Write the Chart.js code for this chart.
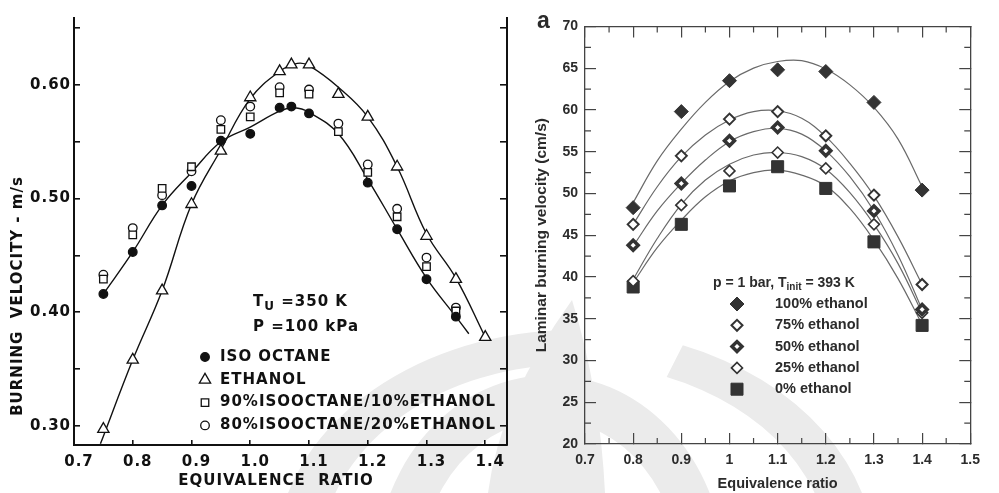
<!DOCTYPE html>
<html>
<head>
<meta charset="utf-8">
<title>Burning velocity vs equivalence ratio</title>
<script src="https://cdn.jsdelivr.net/npm/chart.js@4.4.1/dist/chart.umd.min.js"></script>
<style>
  html, body { margin: 0; padding: 0; background: #fff; }
  #panels { position: relative; width: 999px; height: 493px; overflow: hidden; }
  #panels canvas { position: absolute; top: 0; }
  #emblem { left: 0; width: 999px; height: 493px; }
  #leftChart { left: 0; width: 530px; height: 493px; }
  #rightChart { left: 530px; width: 469px; height: 493px; }
</style>
</head>
<body>
<div id="panels">
  <canvas id="emblem" width="999" height="493"></canvas>
  <canvas id="leftChart" width="530" height="493"></canvas>
  <canvas id="rightChart" width="469" height="493"></canvas>
</div>
<script>
// ---- left panel: iso-octane / ethanol, Tu = 350 K, P = 100 kPa (m/s) ----
const leftPhiIso = [0.75, 0.80, 0.85, 0.90, 0.95, 1.00, 1.05, 1.07, 1.10, 1.20, 1.25, 1.30, 1.35];
const leftSuIso  = [0.416, 0.453, 0.494, 0.511, 0.551, 0.557, 0.580, 0.581, 0.575, 0.514, 0.473, 0.429, 0.396];
const leftPhiEth = [0.75, 0.80, 0.85, 0.90, 0.95, 1.00, 1.05, 1.07, 1.10, 1.15, 1.20, 1.25, 1.30, 1.35, 1.40];
const leftSuEth  = [0.297, 0.358, 0.419, 0.495, 0.542, 0.589, 0.612, 0.618, 0.618, 0.592, 0.572, 0.528, 0.467, 0.429, 0.378];
const leftPhiBlend = [0.75, 0.80, 0.85, 0.90, 0.95, 1.00, 1.05, 1.10, 1.15, 1.20, 1.25, 1.30, 1.35];
const leftSu90 = [0.429, 0.468, 0.509, 0.528, 0.561, 0.572, 0.593, 0.592, 0.559, 0.523, 0.484, 0.440, 0.401];
const leftSu80 = [0.433, 0.474, 0.503, 0.524, 0.569, 0.581, 0.598, 0.596, 0.566, 0.530, 0.491, 0.448, 0.404];
// trend curves drawn through the iso-octane and ethanol points
const isoCurvePhi = [0.75, 0.80, 0.85, 0.90, 0.95, 1.00, 1.05, 1.075, 1.10, 1.15, 1.20, 1.25, 1.30, 1.35, 1.372];
const isoCurveSu  = [0.416, 0.453, 0.494, 0.523, 0.550, 0.563, 0.577, 0.580, 0.576, 0.557, 0.517, 0.473, 0.430, 0.396, 0.381];
const ethCurvePhi = [0.745, 0.80, 0.85, 0.90, 0.95, 1.00, 1.05, 1.08, 1.10, 1.15, 1.20, 1.25, 1.30, 1.35, 1.40];
const ethCurveSu  = [0.284, 0.358, 0.419, 0.495, 0.543, 0.588, 0.612, 0.619, 0.617, 0.598, 0.572, 0.528, 0.469, 0.430, 0.378];
const leftXTicks  = [0.7, 0.8, 0.9, 1.0, 1.1, 1.2, 1.3, 1.4];
const leftYTicks  = [0.30, 0.35, 0.40, 0.45, 0.50, 0.55, 0.60, 0.65];
const leftYLabels = [0.30, 0.40, 0.50, 0.60];

// ---- right panel: ethanol share, p = 1 bar, Tinit = 393 K (cm/s) ----
const rightPhi = [0.8, 0.9, 1.0, 1.1, 1.2, 1.3, 1.4];
const su100 = [48.3, 59.8, 63.5, 64.8, 64.6, 60.9, 50.4];
const su75  = [46.3, 54.5, 58.9, 59.8, 56.9, 49.8, 39.1];
const su50  = [43.8, 51.2, 56.3, 57.9, 55.1, 47.9, 36.1];
const su25  = [39.5, 48.6, 52.7, 54.9, 53.0, 46.3, 35.7];
const su0   = [38.8, 46.3, 50.9, 53.2, 50.6, 44.2, 34.2];
const fitPhi = [0.8, 0.85, 0.9, 0.95, 1.0, 1.05, 1.1, 1.15, 1.2, 1.25, 1.3, 1.35, 1.4];
const fit100 = [48.9, 53.9, 57.7, 60.9, 63.4, 65.0, 65.8, 65.9, 64.9, 63.0, 60.3, 56.5, 50.8];
const fit75  = [46.3, 50.8, 54.4, 57.0, 58.8, 59.8, 59.9, 59.0, 56.8, 53.6, 49.7, 44.8, 39.1];
const fit50  = [43.7, 47.9, 51.2, 54.0, 56.2, 57.4, 57.8, 57.1, 55.1, 52.0, 47.9, 42.6, 36.1];
const fit25  = [39.7, 44.6, 48.7, 51.6, 53.5, 54.6, 54.9, 54.4, 52.9, 50.1, 46.3, 41.6, 35.7];
const fit0   = [39.3, 43.5, 46.8, 49.6, 51.5, 52.5, 52.8, 52.2, 50.9, 48.2, 44.4, 39.8, 34.3];
const rightXTicks = [0.7, 0.8, 0.9, 1.0, 1.1, 1.2, 1.3, 1.4, 1.5];
const rightYTicks = [20, 25, 30, 35, 40, 45, 50, 55, 60, 65, 70];

const pts = (xs, ys) => xs.map((x, i) => ({ x, y: ys[i] }));
const fixTicks = list => scale => { scale.ticks = list.map(value => ({ value })); };

// faint emblem printed behind both panels
(function drawEmblem() {
  const c = document.getElementById('emblem').getContext('2d');
  c.fillStyle = '#ebebeb';
  const band = (cx, cy, rxo, ryo, rxi, ryi, a0, a1) => {
    c.beginPath();
    c.ellipse(cx, cy, rxo, ryo, 0, a0, a1);
    c.ellipse(cx, cy, rxi, ryi, 0, a1, a0, true);
    c.closePath();
    c.fill();
  };
  band(575, 560, 300, 230, 255, 196, 3.2, 4.66);
  band(575, 560, 300, 230, 255, 196, 5.08, 6.3);
  band(550, 575, 175, 200, 130, 155, 3.1, 6.3);
  c.beginPath();
  c.moveTo(572, 300);
  c.quadraticCurveTo(500, 400, 488, 493);
  c.lineTo(605, 493);
  c.quadraticCurveTo(600, 390, 572, 300);
  c.fill();
})();

// short extra ticks halfway between the major ones, pointing into the plot
const minorTicks = {
  id: 'minorTicks',
  afterDraw(chart, args, opts) {
    if (!opts.length) return;
    const { ctx, chartArea: a } = chart;
    ctx.save();
    ctx.strokeStyle = opts.color;
    ctx.lineWidth = opts.width;
    ctx.beginPath();
    for (const scale of Object.values(chart.scales)) {
      const t = scale.ticks;
      for (let i = 0; i + 1 < t.length; i++) {
        const p = scale.getPixelForValue((t[i].value + t[i + 1].value) / 2);
        if (scale.position === 'bottom') { ctx.moveTo(p, a.bottom); ctx.lineTo(p, a.bottom - opts.length); }
        if (scale.position === 'top') { ctx.moveTo(p, a.top); ctx.lineTo(p, a.top + opts.length); }
        if (scale.position === 'left') { ctx.moveTo(a.left, p); ctx.lineTo(a.left + opts.length, p); }
        if (scale.position === 'right') { ctx.moveTo(a.right, p); ctx.lineTo(a.right - opts.length, p); }
      }
    }
    ctx.stroke();
    ctx.restore();
  }
};

// legend drawn inside the plot: one row per labelled dataset
const keyBox = {
  id: 'keyBox',
  afterDraw(chart, args, o) {
    if (!o.rowGap) return;
    const ctx = chart.ctx;
    ctx.save();
    ctx.letterSpacing = o.spacing || '0px';
    ctx.font = o.font;
    ctx.textBaseline = 'middle';
    chart.data.datasets.filter(d => d.label).forEach((d, i) => {
      const y = o.top + i * o.rowGap;
      ctx.fillStyle = d.backgroundColor;
      ctx.strokeStyle = d.borderColor;
      ctx.lineWidth = d.borderWidth;
      Chart.helpers.drawPoint(ctx, {
        pointStyle: d.pointStyle, radius: d.keyRadius || d.pointRadius, rotation: 0, borderWidth: d.borderWidth
      }, o.markX, y);
      ctx.fillStyle = o.color;
      ctx.fillText(d.label, o.textX, y);
    });
    ctx.restore();
  }
};

// free text with optional subscripts and rotation
const notes = {
  id: 'notes',
  afterDraw(chart, args, o) {
    if (!o.items) return;
    const ctx = chart.ctx;
    for (const n of o.items) {
      ctx.save();
      ctx.translate(n.x, n.y);
      if (n.rotate) ctx.rotate(n.rotate * Math.PI / 180);
      ctx.letterSpacing = o.spacing || '0px';
      ctx.fillStyle = o.color;
      ctx.textBaseline = 'middle';
      const runs = n.runs || [{ text: n.text }];
      let w = 0;
      runs.forEach(r => { ctx.font = r.sub ? o.subFont : (n.font || o.font); r.w = ctx.measureText(r.text).width; w += r.w; });
      let x = n.align === 'center' ? -w / 2 : 0;
      runs.forEach(r => {
        ctx.font = r.sub ? o.subFont : (n.font || o.font);
        ctx.fillText(r.text, x, r.sub ? o.subShift : 0);
        x += r.w;
      });
      ctx.restore();
    }
  }
};

// wider letter spacing for the typewriter-style lettering of the left panel
const spaced = {
  id: 'spaced',
  beforeDraw(chart, args, o) { if (o.value) chart.ctx.letterSpacing = o.value; }
};

const ink = '#111';
const leftFont = { family: 'DejaVu Sans', size: 15, weight: 'bold' };
const leftFontStr = 'bold 15px "DejaVu Sans"';

function leftCurve(xs, ys) {
  return { data: pts(xs, ys), showLine: true, pointRadius: 0, borderColor: ink, borderWidth: 1.4,
           tension: 0.4, order: 5 };
}
function leftMarks(label, xs, ys, style, radius, fill) {
  return { label, data: pts(xs, ys), pointStyle: style, pointRadius: radius, keyRadius: radius,
           backgroundColor: fill, borderColor: ink, borderWidth: 1.3, order: 1 };
}

new Chart(document.getElementById('leftChart'), {
  type: 'scatter',
  data: {
    datasets: [
      leftMarks('ISO OCTANE', leftPhiIso, leftSuIso, 'circle', 4.3, ink),
      leftMarks('ETHANOL', leftPhiEth, leftSuEth, 'triangle', 6.5, '#fff'),
      leftMarks('90%ISOOCTANE/10%ETHANOL', leftPhiBlend, leftSu90, 'rect', 5.3, '#fff'),
      leftMarks('80%ISOOCTANE/20%ETHANOL', leftPhiBlend, leftSu80, 'circle', 4.3, '#fff'),
      leftCurve(isoCurvePhi, isoCurveSu),
      leftCurve(ethCurvePhi, ethCurveSu)
    ]
  },
  options: {
    responsive: false,
    animation: false,
    events: [],
    layout: { padding: { top: 13, left: 0, right: 0, bottom: 0 } },
    scales: {
      x: {
        type: 'linear', position: 'bottom', min: 0.7, max: 1.437,
        afterBuildTicks: fixTicks(leftXTicks),
        afterFit: s => { s.height = 48; },
        ticks: { callback: v => v.toFixed(1), font: leftFont, color: ink, padding: 13, labelOffset: 5, maxRotation: 0 },
        grid: { drawOnChartArea: false, tickLength: -5, color: ink, lineWidth: 1.6 },
        border: { color: ink, width: 2 }
      },
      y: {
        type: 'linear', position: 'left', min: 0.283, max: 0.659,
        afterBuildTicks: fixTicks(leftYTicks),
        afterFit: s => { s.width = 74; },
        ticks: {
          callback: v => leftYLabels.some(l => Math.abs(l - v) < 1e-6) ? v.toFixed(2) : '',
          font: leftFont, color: ink, padding: 9
        },
        grid: { drawOnChartArea: false, tickLength: -6, color: ink, lineWidth: 1.6 },
        border: { color: ink, width: 2 }
      },
      yRight: {
        type: 'linear', position: 'right', min: 0.283, max: 0.659,
        afterBuildTicks: fixTicks(leftYTicks),
        afterFit: s => { s.width = 23; },
        ticks: { display: false },
        grid: { drawOnChartArea: false, tickLength: -7, color: ink, lineWidth: 1.6 },
        border: { color: ink, width: 2 }
      }
    },
    plugins: {
      legend: { display: false },
      tooltip: { enabled: false },
      spaced: { value: '1px' },
      keyBox: { markX: 205, textX: 220, top: 357, rowGap: 22.8, font: leftFontStr, color: ink, spacing: '1px' },
      notes: {
        font: leftFontStr, subFont: 'bold 12px "DejaVu Sans"', subShift: 5, color: ink, spacing: '1px',
        items: [
          { x: 253, y: 302, runs: [{ text: 'T' }, { text: 'U', sub: true }, { text: ' =350 K' }] },
          { x: 253, y: 327, text: 'P =100 kPa' },
          { x: 18, y: 296, rotate: -90, align: 'center', text: 'BURNING  VELOCITY - m/s' },
          { x: 276, y: 481, align: 'center', text: 'EQUIVALENCE  RATIO' }
        ]
      }
    }
  },
  plugins: [spaced, keyBox, notes]
});

// ---- right panel ----
const grey = '#2b2b2b';
const rightFont = { family: 'Liberation Sans', size: 14, weight: 'bold' };
const rightFontStr = 'bold 14.5px "Liberation Sans"';

function rightCurve(ys) {
  return { data: pts(fitPhi, ys), showLine: true, pointRadius: 0, borderColor: '#6a6a6a', borderWidth: 1.2,
           tension: 0.4, order: 5 };
}
function rightMarks(label, ys, style, radius, fill, bw) {
  return { label, data: pts(rightPhi, ys), pointStyle: style, pointRadius: radius,
           backgroundColor: fill, borderColor: '#333', borderWidth: bw, order: 1 };
}
const boxAxis = tl => ({ drawOnChartArea: false, tickLength: tl, color: '#444', lineWidth: 1.2 });

new Chart(document.getElementById('rightChart'), {
  type: 'scatter',
  data: {
    datasets: [
      rightMarks('100% ethanol', su100, 'rectRot', 7, '#333', 1),
      rightMarks('75% ethanol', su75, 'rectRot', 5.5, '#fff', 2),
      rightMarks('50% ethanol', su50, 'rectRot', 5, '#fff', 3.5),
      rightMarks('25% ethanol', su25, 'rectRot', 5.5, '#fff', 1.6),
      rightMarks('0% ethanol', su0, 'rect', 8.5, '#333', 1),
      rightCurve(fit100), rightCurve(fit75), rightCurve(fit50), rightCurve(fit25), rightCurve(fit0)
    ]
  },
  options: {
    responsive: false,
    animation: false,
    events: [],
    layout: { padding: 0 },
    scales: {
      x: {
        type: 'linear', position: 'bottom', min: 0.7, max: 1.5,
        afterBuildTicks: fixTicks(rightXTicks),
        afterFit: s => { s.height = 49; },
        ticks: { callback: v => String(Number(v.toFixed(1))), font: rightFont, color: grey, padding: 19, maxRotation: 0 },
        grid: boxAxis(-11),
        border: { color: '#444', width: 1.3 },
        title: { display: true, text: 'Equivalence ratio', font: { ...rightFont, size: 14.5 }, color: grey, padding: { top: 7, bottom: 0 } }
      },
      xTop: {
        type: 'linear', position: 'top', min: 0.7, max: 1.5,
        afterBuildTicks: fixTicks(rightXTicks),
        afterFit: s => { s.height = 16; },
        ticks: { display: false },
        grid: boxAxis(-11),
        border: { color: '#444', width: 1.3 }
      },
      y: {
        type: 'linear', position: 'left', min: 20, max: 70,
        afterBuildTicks: fixTicks(rightYTicks),
        afterFit: s => { s.width = 55; },
        ticks: { callback: v => String(v), font: rightFont, color: grey, padding: 18 },
        grid: boxAxis(-11),
        border: { color: '#444', width: 1.3 },
        title: { display: true, text: 'Laminar burning velocity (cm/s)', font: { ...rightFont, size: 15.5 }, color: grey, padding: { top: 2, bottom: 0 } }
      },
      yRight: {
        type: 'linear', position: 'right', min: 20, max: 70,
        afterBuildTicks: fixTicks(rightYTicks),
        afterFit: s => { s.width = 12; },
        ticks: { display: false },
        grid: boxAxis(-11),
        border: { color: '#444', width: 1.3 }
      }
    },
    plugins: {
      legend: { display: false },
      tooltip: { enabled: false },
      minorTicks: { length: 6, color: '#444', width: 1.2 },
      keyBox: { markX: 207, textX: 245, top: 304, rowGap: 21.3, font: rightFontStr, color: grey },
      notes: {
        font: 'bold 14px "Liberation Sans"', subFont: 'bold 10px "Liberation Sans"', subShift: 4, color: grey,
        items: [
          { x: 183, y: 283, runs: [{ text: 'p = 1 bar, T' }, { text: 'init', sub: true }, { text: ' = 393 K' }] },
          { x: 7, y: 22, font: 'bold 23px "Liberation Sans"', text: 'a' }
        ]
      }
    }
  },
  plugins: [minorTicks, keyBox, notes]
});
</script>
</body>
</html>
